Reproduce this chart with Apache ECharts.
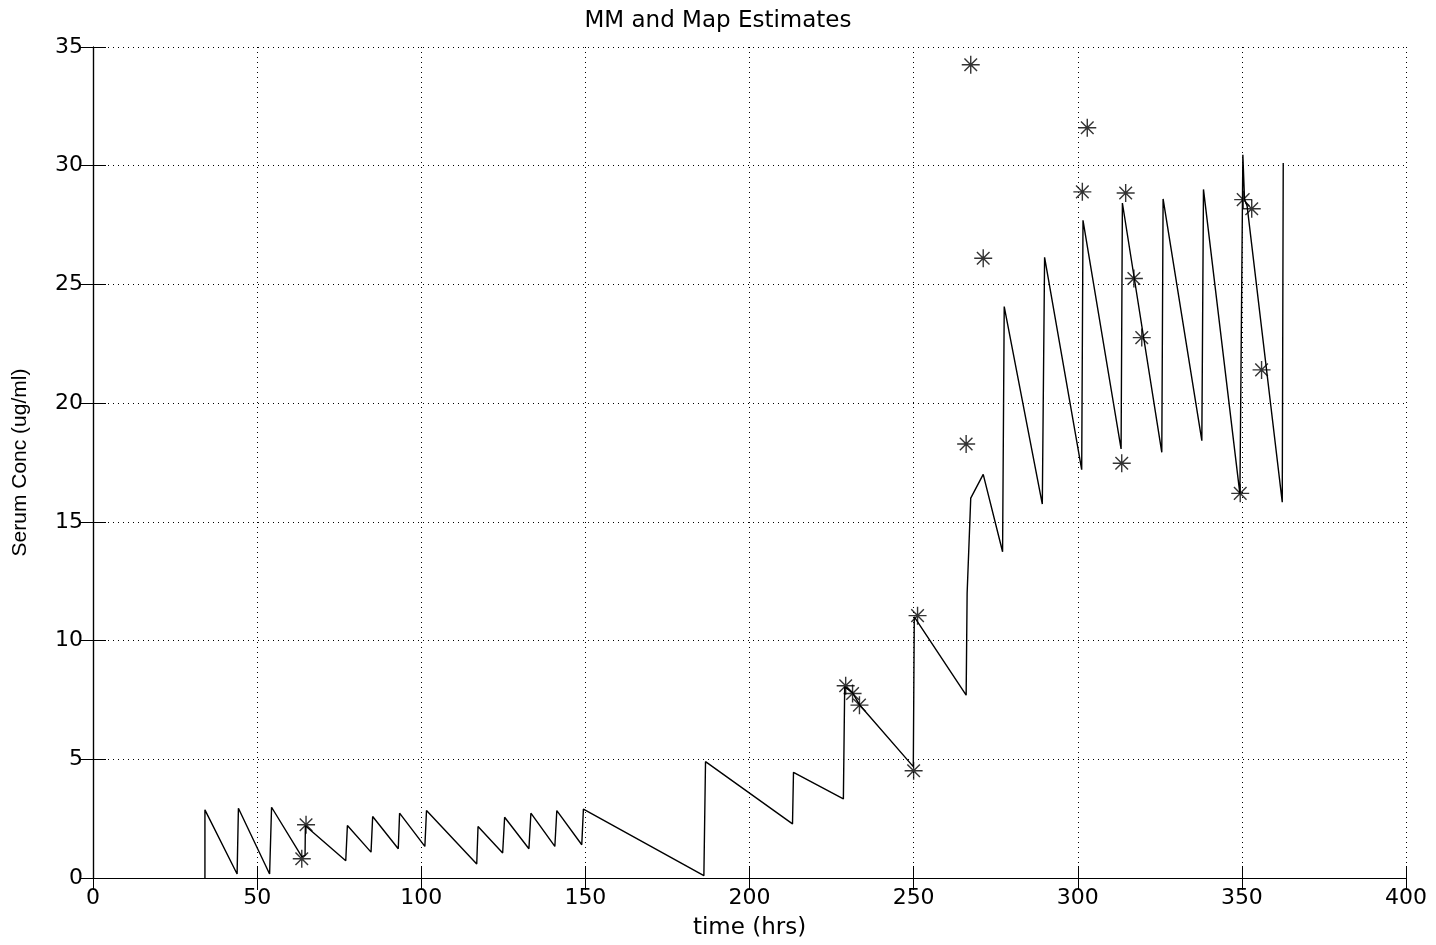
<!DOCTYPE html>
<html lang="en">
<head>
    <meta charset="UTF-8">
    <title>MM and Map Estimates</title>
    <script src="https://cdn.jsdelivr.net/npm/echarts@6/dist/echarts.min.js"></script>
    <style>
        html, body { margin: 0; padding: 0; background: #fff; }
        #chart { width: 1436px; height: 945px; }
    </style>
</head>
<body>
<div id="chart"></div>
<script>
    // model curve (time in hrs, conc in ug/ml)
    let curveTime = [34.1, 34.1, 43.9, 44.3, 53.8, 54.4, 63.6, 64.6, 64.7, 77.0, 77.5, 84.7, 85.2, 93.0, 93.4,
        101.1, 101.6, 116.9, 117.3, 124.8, 125.4, 132.8, 133.4, 140.7, 141.3, 148.9, 149.4, 186.1, 186.6,
        213.1, 213.4, 228.6, 229.0, 231.4, 233.5, 249.9, 250.2, 266.0, 266.3, 267.4, 271.2, 277.1, 277.6,
        289.2, 289.9, 301.2, 301.6, 313.2, 313.6, 325.6, 326.0, 337.8, 338.3, 349.4, 350.3, 350.8, 351.6,
        362.3, 362.6];
    let curveConc = [0, 2.87, 0.17, 2.94, 0.17, 2.98, 0.9, 0.95, 2.2, 0.73, 2.21, 1.09, 2.59, 1.23, 2.73,
        1.33, 2.84, 0.59, 2.17, 1.05, 2.56, 1.23, 2.73, 1.33, 2.84, 1.40, 2.90, 0.10, 4.90,
        2.28, 4.45, 3.33, 8.05, 7.8, 7.3, 4.69, 11.0, 7.7, 12.0, 16.0, 17.0, 13.74, 24.07,
        15.75, 26.14, 17.2, 27.7, 18.07, 28.43, 17.93, 28.6, 18.42, 29.0, 16.18, 30.46, 28.6, 28.3,
        15.83, 30.11];

    // measured levels (stars)
    let obsTime = [63.6, 64.9, 229.3, 231.4, 233.5, 250.0, 251.2, 266.0, 267.4, 271.2,
        301.4, 302.9, 313.4, 314.6, 317.1, 319.5, 349.5, 350.4, 353.0, 356.0];
    let obsConc = [0.81, 2.24, 8.10, 7.77, 7.28, 4.52, 11.05, 18.28, 34.25, 26.1,
        28.9, 31.6, 17.47, 28.85, 25.25, 22.76, 16.2, 28.57, 28.19, 21.4];

    let curveData = curveTime.map(function (t, i) { return [t, curveConc[i]]; });
    let obsData   = obsTime.map(function (t, i) { return [t, obsConc[i]]; });

    let tickFont = {fontFamily: 'DejaVu Sans', fontSize: 22, color: '#000'};
    let gridLine = {show: true, lineStyle: {color: '#000', width: 1, type: [1, 4]}};
    let frame    = {show: true, lineStyle: {color: '#000', width: 1.2}};

    let chart = echarts.init(document.getElementById('chart'));
    chart.setOption({
        backgroundColor: '#fff',
        animation: false,
        title: {
            text: 'MM and Map Estimates',
            left: 'center',
            top: 5,
            textStyle: {fontFamily: 'DejaVu Sans', fontSize: 23, fontWeight: 'normal', color: '#000'}
        },
        grid: {left: 93, right: 30, top: 47, bottom: 65},
        xAxis: [
            {
                type: 'value', min: 0, max: 400, interval: 50, position: 'bottom',
                name: 'time (hrs)', nameLocation: 'middle', nameGap: 39,
                nameTextStyle: {fontFamily: 'DejaVu Sans', fontSize: 23, color: '#000'},
                axisLine: frame,
                axisTick: {inside: true, length: 12, lineStyle: {color: '#000'}},
                axisLabel: Object.assign({margin: 9}, tickFont),
                splitLine: gridLine
            },
            {
                type: 'value', min: 0, max: 400, interval: 50, position: 'top',
                axisLine: frame,
                axisTick: {inside: true, length: 12, lineStyle: {color: '#000'}},
                axisLabel: {show: false},
                splitLine: {show: false}
            }
        ],
        yAxis: [
            {
                type: 'value', min: 0, max: 35, interval: 5, position: 'left',
                name: 'Serum Conc (ug/ml)', nameLocation: 'middle', nameGap: 62,
                nameTextStyle: {fontFamily: 'Liberation Sans', fontSize: 21, color: '#000'},
                axisLine: frame,
                axisTick: {inside: true, length: 13, lineStyle: {color: '#000'}},
                axisLabel: Object.assign({margin: 10}, tickFont),
                splitLine: gridLine
            },
            {
                type: 'value', min: 0, max: 35, interval: 5, position: 'right',
                axisLine: frame,
                axisTick: {inside: true, length: 13, lineStyle: {color: '#000'}},
                axisLabel: {show: false},
                splitLine: {show: false}
            }
        ],
        series: [
            {
                type: 'line',
                data: curveData,
                symbol: 'none',
                lineStyle: {color: '#000', width: 1.4},
                z: 3
            },
            {
                type: 'scatter',
                data: obsData,
                symbol: 'path://M0,-10L0,10M-10,0L10,0M-7,-7L7,7M-7,7L7,-7',
                symbolSize: 18,
                itemStyle: {color: 'transparent', borderColor: '#000', borderWidth: 1.4},
                z: 4
            }
        ]
    });
</script>
</body>
</html>
